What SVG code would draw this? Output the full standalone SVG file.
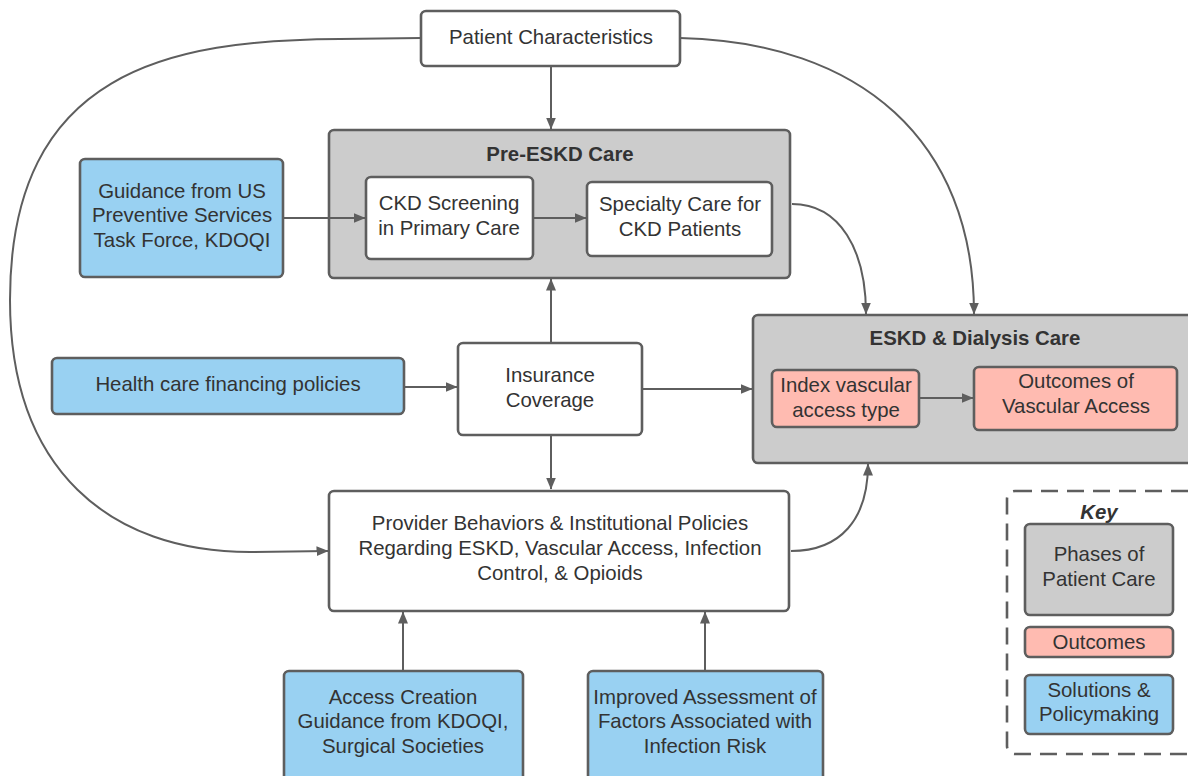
<svg xmlns="http://www.w3.org/2000/svg" width="1188" height="776" viewBox="0 0 1188 776">
  <defs>
    <style>
      .box { stroke: #5e5e5e; stroke-width: 2.6; }
      .plain { fill: #ffffff; }
      .phase { fill: #cccccc; }
      .sol { fill: #99d1f2; }
      .out { fill: #ffbbb1; }
      .t { font-family: "Liberation Sans", Arial, sans-serif; font-size: 20.4px; fill: #333333; text-anchor: middle; }
      .title { font-weight: bold; }
      .edge { fill: none; stroke: #5e5e5e; stroke-width: 2; marker-end: url(#arrow); }
    </style>
    <marker id="arrow" viewBox="0 0 12 10" refX="11.5" refY="5" markerWidth="12" markerHeight="10" markerUnits="userSpaceOnUse" orient="auto">
      <path d="M0,0 L12,5 L0,10 Z" fill="#5e5e5e"/>
    </marker>
  </defs>

  <rect width="1188" height="776" fill="#ffffff"/>

  <g id="patient-characteristics">
    <rect class="box plain" x="421" y="11" width="259" height="55" rx="5"/>
    <text class="t" x="551" y="44">Patient Characteristics</text>
  </g>

  <g id="pre-eskd-care">
    <rect class="box phase" x="329" y="130" width="461" height="148" rx="5"/>
    <text class="t title" x="560" y="161">Pre-ESKD Care</text>
  </g>

  <g id="ckd-screening">
    <rect class="box plain" x="366" y="177" width="167" height="82" rx="5"/>
    <text class="t" x="449" y="210">CKD Screening</text>
    <text class="t" x="449" y="235">in Primary Care</text>
  </g>

  <g id="specialty-care">
    <rect class="box plain" x="587" y="182" width="185" height="74" rx="5"/>
    <text class="t" x="680" y="211">Specialty Care for</text>
    <text class="t" x="680" y="236">CKD Patients</text>
  </g>

  <g id="uspstf-guidance">
    <rect class="box sol" x="80" y="159" width="203" height="118" rx="5"/>
    <text class="t" x="182" y="198">Guidance from US</text>
    <text class="t" x="182" y="222">Preventive Services</text>
    <text class="t" x="182" y="247">Task Force, KDOQI</text>
  </g>

  <g id="financing-policies">
    <rect class="box sol" x="52" y="358" width="352" height="56" rx="5"/>
    <text class="t" x="228" y="391">Health care financing policies</text>
  </g>

  <g id="insurance-coverage">
    <rect class="box plain" x="458" y="343" width="184" height="92" rx="5"/>
    <text class="t" x="550" y="382">Insurance</text>
    <text class="t" x="550" y="407">Coverage</text>
  </g>

  <g id="eskd-dialysis-care">
    <rect class="box phase" x="753" y="315" width="445" height="148" rx="5"/>
    <text class="t title" x="975" y="345">ESKD &amp; Dialysis Care</text>
  </g>

  <g id="index-access-type">
    <rect class="box out" x="772" y="370" width="147" height="57" rx="5"/>
    <text class="t" x="846" y="392">Index vascular</text>
    <text class="t" x="846" y="417">access type</text>
  </g>

  <g id="access-outcomes">
    <rect class="box out" x="974" y="367" width="203" height="63" rx="5"/>
    <text class="t" x="1076" y="388">Outcomes of</text>
    <text class="t" x="1076" y="413">Vascular Access</text>
  </g>

  <g id="provider-policies">
    <rect class="box plain" x="329" y="491" width="460" height="120" rx="5"/>
    <text class="t" x="560" y="530">Provider Behaviors &amp; Institutional Policies</text>
    <text class="t" x="560" y="555">Regarding ESKD, Vascular Access, Infection</text>
    <text class="t" x="560" y="580">Control, &amp; Opioids</text>
  </g>

  <g id="access-creation-guidance">
    <rect class="box sol" x="284" y="671" width="239" height="112" rx="5"/>
    <text class="t" x="403" y="704">Access Creation</text>
    <text class="t" x="403" y="728">Guidance from KDOQI,</text>
    <text class="t" x="403" y="753">Surgical Societies</text>
  </g>

  <g id="infection-risk-assessment">
    <rect class="box sol" x="588" y="671" width="235" height="112" rx="5"/>
    <text class="t" x="705" y="704">Improved Assessment of</text>
    <text class="t" x="705" y="728">Factors Associated with</text>
    <text class="t" x="705" y="753">Infection Risk</text>
  </g>

  <g id="key">
    <rect x="1007" y="491" width="200" height="263" rx="8" fill="none" stroke="#5e5e5e" stroke-width="2.6" stroke-dasharray="17 9"/>
    <text class="t title" x="1099" y="519" font-style="italic">Key</text>
    <rect class="box phase" x="1025" y="524" width="148" height="91" rx="5"/>
    <text class="t" x="1099" y="561">Phases of</text>
    <text class="t" x="1099" y="586">Patient Care</text>
    <rect class="box out" x="1025" y="627" width="148" height="30" rx="5"/>
    <text class="t" x="1099" y="649">Outcomes</text>
    <rect class="box sol" x="1025" y="675" width="148" height="59" rx="5"/>
    <text class="t" x="1099" y="697">Solutions &amp;</text>
    <text class="t" x="1099" y="721">Policymaking</text>
  </g>

  <!-- connectors, drawn last so they sit on top of the phase panels -->
  <g id="connectors">
    <path class="edge" d="M551,66 L551,129"/>
    <path class="edge" d="M283,218 L365,218"/>
    <path class="edge" d="M533,218 L586,218"/>
    <path class="edge" d="M404,387 L457,387"/>
    <path class="edge" d="M642,389 L752,389"/>
    <path class="edge" d="M551,343 L551,279"/>
    <path class="edge" d="M551,436 L551,489"/>
    <path class="edge" d="M919,398 L973,398"/>
    <path class="edge" d="M403,671 L403,612"/>
    <path class="edge" d="M705,671 L705,612"/>
    <path class="edge" d="M421,38 L340,39 C170,40 10,70 10,300 C10,470 110,552 250,552 L328,551"/>
    <path class="edge" d="M680,38 C860,42 974,140 974,314"/>
    <path class="edge" d="M792,204 C840,204 866,250 866,314"/>
    <path class="edge" d="M791,551 C840,551 868,520 868,464"/>
  </g>
</svg>
